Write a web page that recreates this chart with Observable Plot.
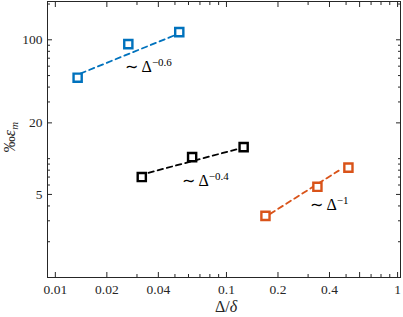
<!DOCTYPE html>
<html><head><meta charset="utf-8">
<script src="https://cdn.jsdelivr.net/npm/d3@7"></script>
<script src="https://cdn.jsdelivr.net/npm/@observablehq/plot@0.6"></script>
<style>body{margin:0;background:#fff}svg{display:block}</style>
</head><body><div id="chart"></div>
<script>
// Series data (Δ/δ, value)
const blueX = [0.0135, 0.0267, 0.053];
const blueY = [48, 92, 116];
const blackX = [0.032, 0.063, 0.126];
const blackY = [7.0, 10.3, 12.5];
const orangeX = [0.169, 0.34, 0.516];
const orangeY = [3.3, 5.8, 8.4];
// Fitted power-law line endpoints
const blueFitX = [0.014, 0.052];
const blueFitY = [52, 112];
const blackFitX = [0.035, 0.12];
const blackFitY = [7.6, 12.2];
const orangeFitX = [0.18, 0.453];
const orangeFitY = [3.43, 7.93];
// Annotations
const annText = ["−0.6", "−0.4", "−1"];
const annX = [0.0257, 0.0552, 0.309];
const annY = [59, 6.5, 4.1];
// Ticks
const xTickLabels = [0.01, 0.02, 0.04, 0.1, 0.2, 0.4, 0.6, 1];
const xMinor = [0.03, 0.05, 0.06, 0.07, 0.08, 0.09, 0.3, 0.5, 0.7, 0.8, 0.9];
const yTickLabels = [5, 20, 100];
const yMinor = [2, 3, 4, 6, 7, 8, 9, 10, 30, 40, 50, 60, 70, 80, 90, 200];

const colors = {blue: "#0072BD", black: "#000000", orange: "#D95319"};
const pts = [];
const fits = [];
[["blue", blueX, blueY, blueFitX, blueFitY], ["black", blackX, blackY, blackFitX, blackFitY], ["orange", orangeX, orangeY, orangeFitX, orangeFitY]]
  .forEach(([s, xs, ys, fx, fy]) => {
    xs.forEach((x, i) => pts.push({s, x, y: ys[i]}));
    fx.forEach((x, i) => fits.push({s, x, y: fy[i]}));
  });
const anns = annText.map((t, i) => ({t, x: annX[i], y: annY[i]}));

const font = "Liberation Serif, Times New Roman, serif";
const tc = "#262626";
const tickOpts = (ticks, size) => ({ticks, tickSize: -size, text: null, label: null, stroke: tc});

const plot = Plot.plot({
  width: 403, height: 317,
  marginLeft: 47, marginRight: 3, marginTop: 1, marginBottom: 40,
  style: {fontFamily: font, fontSize: "13.5px", color: tc, background: "#fff"},
  x: {type: "log", domain: [0.009, 1.04]},
  y: {type: "log", domain: [1, 210]},
  marks: [
    Plot.frame({stroke: tc, strokeWidth: 1}),
    Plot.axisX({anchor: "bottom", ...tickOpts(xTickLabels, 5)}),
    Plot.axisX({anchor: "bottom", ...tickOpts(xMinor, 3)}),
    Plot.axisX({anchor: "top", ...tickOpts(xTickLabels, 5)}),
    Plot.axisX({anchor: "top", ...tickOpts(xMinor, 3)}),
    Plot.axisY({anchor: "left", ...tickOpts(yTickLabels, 5)}),
    Plot.axisY({anchor: "left", ...tickOpts(yMinor, 3)}),
    Plot.axisY({anchor: "right", ...tickOpts(yTickLabels, 5)}),
    Plot.axisY({anchor: "right", ...tickOpts(yMinor, 3)}),
    Plot.axisX({anchor: "bottom", ticks: xTickLabels, tickSize: 0, tickPadding: 7, tickFormat: d => String(d), label: null, fill: tc, fontSize: 13.5}),
    Plot.axisY({anchor: "left", ticks: yTickLabels, tickSize: 0, tickPadding: 5, tickFormat: d => String(d), label: null, fill: tc, fontSize: 13.5}),
    Plot.line(fits, {x: "x", y: "y", z: "s", stroke: d => colors[d.s], strokeWidth: 1.8, strokeDasharray: "5.5,4"}),
    Plot.dot(pts, {x: "x", y: "y", symbol: "square", r: 4.6, stroke: d => colors[d.s], strokeWidth: 2.4, fill: "white"}),
    Plot.text(anns, {x: "x", y: "y", text: d => "∼ Δ", textAnchor: "start", fontSize: 16, fill: "#000", className: "ann"})
  ]
});
document.getElementById("chart").appendChild(plot);

// superscripts for annotations
const svg = d3.select(plot);
svg.selectAll(".ann text").each(function(d, i) {
  const t = d3.select(this);
  t.append("tspan").attr("dy", "-0.55em").attr("font-size", 11).text(anns[i].t);
});
// axis titles
svg.append("text").attr("x", 226).attr("y", 312).attr("text-anchor", "middle")
  .attr("font-family", font).attr("font-size", 16).attr("fill", tc)
  .text("Δ/").append("tspan").attr("font-style", "italic").text("δ");
svg.append("text").attr("transform", "translate(15,137) rotate(-90)").attr("text-anchor", "middle")
  .attr("font-family", font).attr("font-size", 16).attr("fill", tc)
  .call(t => { t.append("tspan").text("‰"); t.append("tspan").attr("font-style", "italic").text("ε");
               t.append("tspan").attr("font-style", "italic").attr("font-size", 11).attr("dy", "0.3em").text("m"); });
</script></body></html>
